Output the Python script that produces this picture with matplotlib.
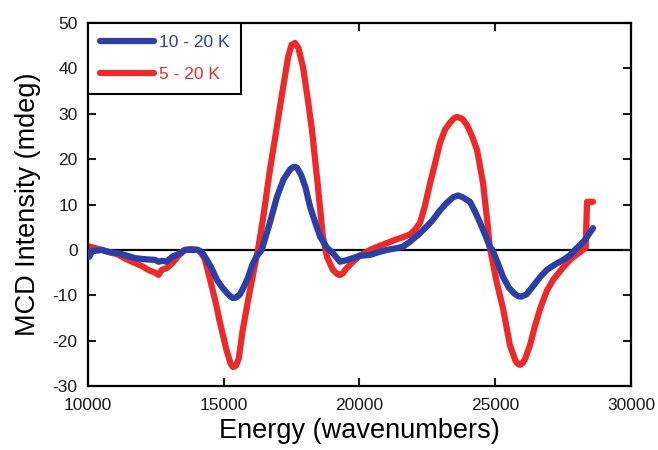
import matplotlib
matplotlib.use("Agg")
import matplotlib.pyplot as plt

# wavenumbers (cm-1) and MCD intensity (mdeg)
energy_blue = [10000, 10050, 10150, 10500, 10800, 11100, 11400, 11730, 12000, 12200,
               12470, 12600, 12750, 12900, 13100, 13300, 13570, 13800, 14050, 14200,
               14380, 14550, 14750, 14950, 15120, 15250, 15340, 15450, 15600, 15750,
               15900, 16040, 16200, 16400, 16450, 16700, 16960, 17200, 17450, 17550,
               17620, 17700, 17850, 18000, 18180, 18400, 18550, 18800, 19020, 19280,
               19500, 19760, 20000, 20390, 20700, 21010, 21300, 21600, 21860, 22230,
               22450, 22700, 22950, 23200, 23450, 23630, 23800, 24070, 24250, 24440,
               24650, 24800, 24900, 25100, 25290, 25500, 25700, 25850, 25950, 26150,
               26390, 26650, 26900, 27200, 27500, 27750, 28000, 28150, 28300, 28450,
               28600]
mcd_blue = [-0.5, -1.5, -0.3, 0.0, -0.5, -0.7, -1.2, -1.8, -2.0, -2.1,
            -2.2, -2.6, -2.4, -2.6, -1.5, -1.0, 0.0, 0.0, 0.0, -0.5,
            -2.2, -4.0, -6.6, -8.3, -9.5, -10.3, -10.6, -10.5, -9.8, -8.0,
            -6.0, -3.5, -1.5, 0.0, 1.0, 6.0, 11.7, 15.5, 17.8, 18.2,
            18.3, 18.1, 16.5, 14.0, 9.5, 5.5, 2.9, 0.5, -0.7, -2.6,
            -2.3, -1.8, -1.3, -1.1, -0.5, 0.0, 0.3, 0.7, 1.8, 3.7,
            5.0, 6.6, 8.6, 10.3, 11.6, 12.0, 11.6, 10.6, 8.5, 6.0,
            3.0, 0.7, 0.0, -3.0, -6.0, -8.3, -9.6, -10.2, -10.3, -9.8,
            -8.0, -6.0, -4.4, -3.2, -2.2, -1.2, 0.4, 1.2, 2.2, 3.5,
            4.8]

energy_red = [10000, 10200, 10500, 10800, 11100, 11400, 11730, 12000, 12250, 12470,
              12600, 12720, 12900, 13100, 13300, 13570, 13800, 14050, 14200, 14300,
              14500, 14700, 14860, 15100, 15250, 15340, 15450, 15550, 15700, 15900,
              16040, 16260, 16450, 16700, 16900, 17070, 17370, 17500, 17620, 17750,
              17920, 18100, 18250, 18470, 18650, 18800, 19020, 19200, 19280, 19380,
              19500, 19760, 20000, 20390, 20700, 21010, 21300, 21600, 21860, 22050,
              22230, 22400, 22600, 22800, 22960, 23150, 23330, 23480, 23590, 23700,
              23800, 23960, 24150, 24330, 24550, 24730, 24800, 25050, 25290, 25540,
              25750, 25850, 25910, 26000, 26100, 26280, 26450, 26650, 26900, 27130,
              27450, 27750, 28000, 28230, 28330, 28380, 28400, 28600]
mcd_red = [0.8, 0.5, 0.0, -0.5, -1.0, -2.0, -2.9, -3.6, -4.5, -5.0,
           -5.5, -4.4, -4.0, -3.0, -1.5, 0.0, 0.2, 0.0, -1.0, -2.0,
           -6.6, -11.5, -16.0, -22.0, -25.0, -25.8, -25.5, -24.0, -17.6, -11.0,
           -6.6, 0.0, 7.0, 17.6, 25.0, 31.5, 42.5, 45.2, 45.6, 44.5,
           40.3, 33.0, 26.4, 13.9, 3.0, -1.5, -4.4, -5.4, -5.5, -5.2,
           -4.2, -2.6, -1.3, 0.0, 0.8, 1.5, 2.2, 2.8, 3.4, 4.5,
           6.0, 9.5, 14.7, 19.5, 23.5, 26.5, 28.0, 29.0, 29.3, 29.1,
           28.8, 27.5, 25.0, 22.0, 14.7, 5.0, 0.5, -7.0, -13.0, -21.0,
           -24.5, -25.2, -25.3, -25.0, -24.0, -21.0, -17.0, -13.0, -9.0, -6.6,
           -4.2, -2.2, -1.0, 0.0, 0.5, 10.6, 10.6, 10.6]

x_ticks = [10000, 15000, 20000, 25000, 30000]
y_ticks = [-30, -20, -10, 0, 10, 20, 30, 40, 50]

blue = "#2b3fa6"
red = "#ec2a2a"

plt.rcParams['font.family'] = ['Liberation Sans', 'DejaVu Sans']
plt.rcParams['axes.unicode_minus'] = False

fig = plt.figure(figsize=(6.58, 4.5), dpi=100)
ax = fig.add_axes([0.1337, 0.142, 0.8253, 0.807])

ax.axhline(0, color="black", lw=1.6, zorder=1)
ax.plot(energy_blue, mcd_blue, color=blue, lw=4.5, solid_joinstyle="round",
        solid_capstyle="round", label="10 - 20 K", zorder=3)
ax.plot(energy_red, mcd_red, color=red, lw=4.5, solid_joinstyle="round",
        solid_capstyle="round", label="5 - 20 K", zorder=2)

ax.set_xlim(10000, 30000)
ax.set_ylim(-30, 50)
ax.set_xticks(x_ticks)
ax.set_yticks(y_ticks)

for s in ax.spines.values():
    s.set_linewidth(1.6)
ax.tick_params(direction="in", length=6, width=1.5, top=True, right=True,
               labelsize=12.5, colors="#1a1a1a")
ax.tick_params(axis="x", pad=8.5)
ax.tick_params(axis="y", pad=7.5)

ax.set_xlabel("Energy (wavenumbers)", fontsize=19.5, labelpad=4)
ax.set_ylabel("MCD Intensity (mdeg)", fontsize=19.5, labelpad=8)

leg = ax.legend(loc="upper left", borderaxespad=0, fancybox=False,
                edgecolor="black", framealpha=1, fontsize=12.5,
                handlelength=3.1, handletextpad=0.3, labelspacing=1.0,
                borderpad=0.68)
leg.get_frame().set_linewidth(1.5)
for txt, c in zip(leg.get_texts(), [blue, red]):
    txt.set_color(c)

fig.savefig("out.png", dpi=100)
